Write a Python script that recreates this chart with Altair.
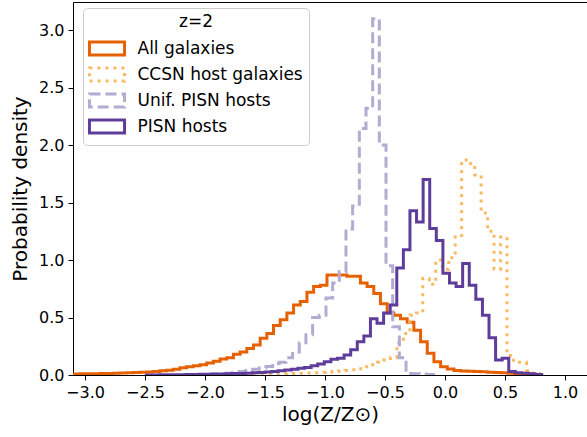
import altair as alt
import numpy as np
import pandas as pd

# ---- series definitions (legend order) ----
labels = ["All galaxies", "CCSN host galaxies", "Unif. PISN hosts", "PISN hosts"]
colors = ["#e66101", "#fdb863", "#b2abd2", "#5e3c99"]
dashes = [[1, 0], [3, 5], [11, 5], [1, 0]]

# ---- histogram bins (first edge, bin width) and densities ----
all_start, all_width = -3.1, 0.0557
all_dens = [0.008, 0.010, 0.010, 0.011, 0.012, 0.013, 0.015, 0.017, 0.019, 0.021,
            0.024, 0.027, 0.031, 0.036, 0.042, 0.050, 0.063, 0.072, 0.080, 0.090,
            0.104, 0.120, 0.139, 0.150, 0.180, 0.200, 0.230, 0.260, 0.320, 0.360,
            0.430, 0.480, 0.540, 0.610, 0.640, 0.720, 0.770, 0.780, 0.870, 0.870,
            0.870, 0.860, 0.860, 0.800, 0.770, 0.710, 0.620, 0.540, 0.520, 0.490,
            0.460, 0.390, 0.290, 0.190, 0.116, 0.072, 0.052, 0.040, 0.035, 0.032,
            0.030, 0.028, 0.025, 0.022, 0.020, 0.016, 0.012, 0.009, 0.006, 0.004]

ccsn_start, ccsn_width = -2.129, 0.054
ccsn_dens = [0.001, 0.001, 0.002, 0.002, 0.003, 0.003, 0.004, 0.004, 0.005, 0.005,
             0.006, 0.006, 0.007, 0.008, 0.009, 0.010, 0.012, 0.015, 0.017, 0.020,
             0.024, 0.027, 0.030, 0.035, 0.040, 0.045, 0.055, 0.072, 0.090, 0.110,
             0.130, 0.150, 0.280, 0.360, 0.520, 0.540, 0.840, 0.790, 1.000, 0.920,
             1.020, 1.200, 1.870, 1.840, 1.740, 1.410, 1.250, 0.920, 1.200, 0.170,
             0.110, 0.110, 0.040, 0.010]

unif_start, unif_width = -2.104, 0.0556
unif_dens = [0.003, 0.005, 0.007, 0.009, 0.012, 0.015, 0.020, 0.030, 0.040, 0.050,
             0.060, 0.075, 0.100, 0.110, 0.150, 0.200, 0.280, 0.350, 0.500, 0.520,
             0.670, 0.800, 0.900, 1.270, 1.470, 2.145, 2.320, 3.100, 2.000, 0.950,
             0.420, 0.150, 0.012, 0.010, 0.008, 0.005, 0.003]

pisn_start, pisn_width = -2.488, 0.0549
pisn_dens = [0.001, 0.001, 0.002, 0.002, 0.003, 0.003, 0.004, 0.005, 0.006, 0.007,
             0.008, 0.009, 0.010, 0.012, 0.014, 0.016, 0.019, 0.022, 0.026, 0.030,
             0.036, 0.043, 0.050, 0.058, 0.065, 0.080, 0.095, 0.116, 0.136, 0.145,
             0.174, 0.220, 0.290, 0.340, 0.490, 0.450, 0.540, 0.610, 0.930, 1.090,
             1.430, 1.330, 1.700, 1.275, 1.170, 0.885, 0.800, 0.770, 0.970, 0.780,
             0.660, 0.520, 0.325, 0.130, 0.145, 0.030, 0.020, 0.015, 0.010, 0.005]

x_ticks = [-3.0, -2.5, -2.0, -1.5, -1.0, -0.5, 0.0, 0.5, 1.0]
y_ticks = [0.0, 0.5, 1.0, 1.5, 2.0, 2.5, 3.0]


def step_frame(name, start, width, dens):
    edges = start + width * np.arange(len(dens) + 1)
    xs = [edges[0]] + list(edges[:-1]) + [edges[-1]]
    ys = [0.0] + list(dens) + [0.0]
    return pd.DataFrame({"x": xs, "y": ys, "series": name, "order": np.arange(len(xs))})


df = pd.concat([
    step_frame(labels[0], all_start, all_width, all_dens),
    step_frame(labels[1], ccsn_start, ccsn_width, ccsn_dens),
    step_frame(labels[2], unif_start, unif_width, unif_dens),
    step_frame(labels[3], pisn_start, pisn_width, pisn_dens),
], ignore_index=True)

FONT = "DejaVu Sans"
xscale = alt.Scale(domain=[-3.1, 1.18333], nice=False, zero=False)
yscale = alt.Scale(domain=[0, 3.245], nice=False, zero=False)
color_scale = alt.Scale(domain=labels, range=colors)
dash_scale = alt.Scale(domain=labels, range=dashes)

legend = alt.Legend(
    title="z=2", orient="none", legendX=10, legendY=6,
    titleAnchor="middle", titleFontSize=17, titleFontWeight="normal", titleFont=FONT,
    titleColor="black", titlePadding=9,
    labelFontSize=17, labelFont=FONT, labelColor="black", labelOffset=22, labelLimit=400,
    symbolType="M-2.7,-1L2.7,-1L2.7,1L-2.7,1Z", symbolSize=169, symbolStrokeWidth=3,
    symbolOffset=9.5, symbolFillColor="transparent",
    padding=6, rowPadding=1,
    fillColor="rgba(255,255,255,0.8)", strokeColor="#cccccc", cornerRadius=4,
)

x_axis = alt.Axis(
    values=x_ticks, format=".1f", title="log(Z/Z⊙)", grid=False,
    labelFont=FONT, labelFontSize=16, labelColor="black", labelPadding=4,
    tickColor="black", tickSize=5, tickWidth=1, domainColor="black", domainWidth=1,
    titleFont=FONT, titleFontSize=20, titleFontWeight="normal", titleColor="black",
    titlePadding=4, labelFlush=False,
)
y_axis = alt.Axis(
    values=y_ticks, format=".1f", title="Probability density", grid=False,
    labelFont=FONT, labelFontSize=16, labelColor="black", labelPadding=4,
    tickColor="black", tickSize=5, tickWidth=1, domainColor="black", domainWidth=1,
    titleFont=FONT, titleFontSize=20, titleFontWeight="normal", titleColor="black",
    titlePadding=8, labelFlush=False,
)


def series_layer(i):
    return alt.Chart(df).transform_filter(
        alt.datum.series == labels[i]
    ).mark_line(interpolate="step-after", strokeWidth=3, clip=True).encode(
        x=alt.X("x:Q", scale=xscale, axis=x_axis if i == 0 else None),
        y=alt.Y("y:Q", scale=yscale, axis=y_axis if i == 0 else None),
        color=alt.Color("series:N", scale=color_scale, legend=legend),
        strokeDash=alt.StrokeDash("series:N", scale=dash_scale, legend=legend),
        order=alt.Order("order:Q"),
    )


top_frame = alt.Chart(df).mark_line(opacity=0).encode(
    x=alt.X("x:Q", scale=xscale,
            axis=alt.Axis(orient="top", labels=False, ticks=False, title=None,
                          grid=False, domainColor="black", domainWidth=1)),
    y=alt.Y("y:Q", scale=yscale, axis=None),
    detail="series:N",
    order=alt.Order("order:Q"),
)

chart = alt.layer(
    series_layer(0), series_layer(1), series_layer(2), series_layer(3), top_frame
).resolve_axis(x="independent", y="independent").properties(
    width=514, height=373,
    padding={"left": 73, "top": 2, "right": 0, "bottom": 62},
    autosize=alt.AutoSizeParams(type="none"),
    background="white",
).configure_view(stroke=None).configure(font=FONT)

chart.save("out.html", embed_options={"renderer": "svg", "actions": False})
